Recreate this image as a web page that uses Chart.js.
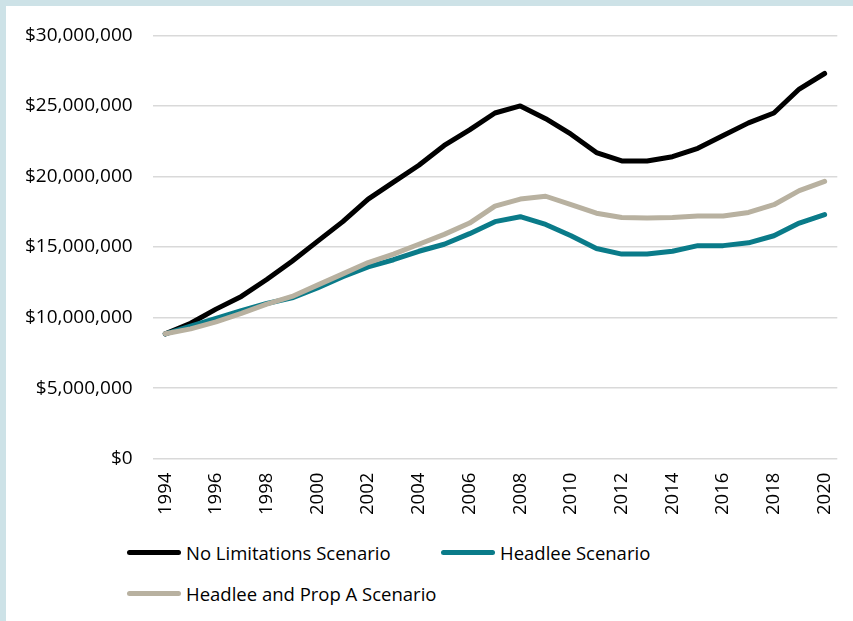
<!DOCTYPE html>
<html>
<head>
<meta charset="utf-8">
<script src="https://cdn.jsdelivr.net/npm/chart.js@4/dist/chart.umd.min.js"></script>
<style>
  html, body { margin: 0; padding: 0; }
  body { width: 853px; height: 621px; background: #cde2e7; position: relative; overflow: hidden; font-family: 'Open Sans', sans-serif; }
  #panel { position: absolute; left: 6px; top: 6px; width: 847px; height: 615px; background: #fff; overflow: hidden; }
  #wrap { position: absolute; left: -12px; top: -2px; width: 867px; height: 525px; }
  .leg { position: absolute; display: flex; align-items: center; font-size: 18.5px; color: #000; white-space: nowrap; }
  .leg span.sw { display: inline-block; width: 54px; height: 5px; border-radius: 3px; margin-right: 5px; }
</style>
</head>
<body>
<div id="panel">
  <div id="wrap"><canvas id="chart"></canvas></div>
  <div id="legend"></div>
</div>
<script>
const years = ['1994','1995','1996','1997','1998','1999','2000','2001','2002','2003','2004','2005','2006','2007','2008','2009','2010','2011','2012','2013','2014','2015','2016','2017','2018','2019','2020']

const noLimitations = [8.85, 9.6, 10.6, 11.5, 12.7, 14.0, 15.4, 16.8, 18.4, 19.6, 20.8, 22.2, 23.3, 24.5, 25.0, 24.1, 23.0, 21.7, 21.1, 21.1, 21.4, 22.0, 22.9, 23.8, 24.5, 26.2, 27.3].map(v => v * 1e6)
const headlee = [8.85, 9.4, 9.95, 10.5, 11.0, 11.4, 12.1, 12.9, 13.6, 14.1, 14.7, 15.2, 15.95, 16.8, 17.15, 16.6, 15.8, 14.9, 14.5, 14.5, 14.7, 15.1, 15.1, 15.3, 15.8, 16.7, 17.3].map(v => v * 1e6)
const headleePropA = [8.85, 9.2, 9.7, 10.3, 10.95, 11.5, 12.3, 13.1, 13.9, 14.5, 15.2, 15.9, 16.7, 17.9, 18.4, 18.6, 18.0, 17.4, 17.1, 17.05, 17.1, 17.2, 17.2, 17.45, 18.0, 19.0, 19.65].map(v => v * 1e6)

const seriesLabels = ['No Limitations Scenario', 'Headlee Scenario', 'Headlee and Prop A Scenario']
const seriesColors = ['#000000', '#0a7b89', '#b8b1a0']

const fontFamily = "'Open Sans', sans-serif"

function makeDataset(i, data, order) {
  return {
    label: seriesLabels[i],
    data: data,
    borderColor: seriesColors[i],
    backgroundColor: seriesColors[i],
    borderWidth: 5,
    pointRadius: 0,
    tension: 0,
    borderJoinStyle: 'round',
    borderCapStyle: 'round',
    order: order
  }
}

const ctx = document.getElementById('chart').getContext('2d')
const chart = new Chart(ctx, {
  type: 'line',
  data: {
    labels: years,
    datasets: [
      makeDataset(0, noLimitations, 2),
      makeDataset(1, headlee, 1),
      makeDataset(2, headleePropA, 0)
    ]
  },
  options: {
    responsive: true,
    maintainAspectRatio: false,
    animation: false,
    layout: { padding: { top: 11, right: 10, left: 11, bottom: 0 } },
    plugins: {
      legend: { display: false },
      tooltip: { enabled: false }
    },
    scales: {
      x: {
        offset: true,
        grid: { display: false, drawTicks: false },
        border: { display: false },
        ticks: {
          autoSkip: false,
          maxRotation: 90,
          minRotation: 90,
          padding: 14,
          color: '#000',
          font: { family: fontFamily, size: 18.5 },
          callback: function (val, i) { return i % 2 === 0 ? years[i] : '' }
        }
      },
      y: {
        min: 0,
        max: 30000000,
        grid: { color: '#d9d9d9', lineWidth: 1.5, drawTicks: false },
        border: { display: false },
        ticks: {
          stepSize: 5000000,
          padding: 20,
          color: '#000',
          font: { family: fontFamily, size: 19 },
          callback: v => '$' + v.toLocaleString('en-US')
        }
      }
    }
  }
})

// legend laid out like the original: two columns, left aligned
const legendPos = [[121, 547], [435, 547], [121, 588]]
const legendEl = document.getElementById('legend')
chart.data.datasets.forEach((ds, i) => {
  const item = document.createElement('div')
  item.className = 'leg'
  item.style.left = legendPos[i][0] + 'px'
  item.style.top = (legendPos[i][1] - 13) + 'px'
  item.innerHTML = '<span class="sw" style="background:' + ds.borderColor + '"></span>' + ds.label
  legendEl.appendChild(item)
})
</script>
</body>
</html>
